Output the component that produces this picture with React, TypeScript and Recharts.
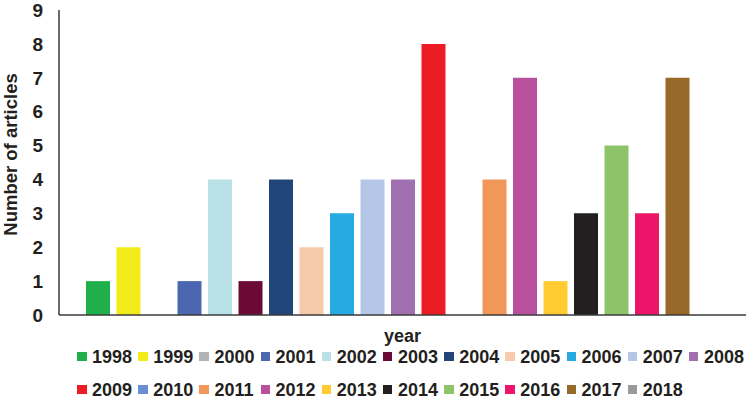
import React from 'react';
import { BarChart, Bar, XAxis, YAxis } from 'recharts';

const years = ['1998','1999','2000','2001','2002','2003','2004','2005','2006','2007','2008','2009','2010','2011','2012','2013','2014','2015','2016','2017','2018'];
const counts = [1, 2, 0, 1, 4, 1, 4, 2, 3, 4, 4, 8, 0, 4, 7, 1, 3, 5, 3, 7, 0];
const colors = ['#1fb04b','#f2eb1a','#b3b3b3','#4a67b0','#b8e2e8','#6a0a35','#22467a','#f8caac','#27aae1','#b4c7e7','#a070b0','#ec1c24','#6a90d2','#f2975a','#b8509e','#ffcb31','#231f20','#8dc46a','#ec1569','#96692a','#9a9a9a'];
const yTicks = [0, 1, 2, 3, 4, 5, 6, 7, 8, 9];
const categoryLabel = 'year';

const row: Record<string, string | number> = { name: categoryLabel };
years.forEach((y, i) => { row[y] = counts[i]; });
const data = [row];

const font = 'Arial, "Liberation Sans", sans-serif';
const textColor = '#231f20';

function LegendBlock() {
  const rows = [years.slice(0, 11), years.slice(11)];
  return (
    <div style={{ position: 'absolute', left: 77, top: 340, fontFamily: font, fontWeight: 'bold', fontSize: 18, color: textColor }}>
      {rows.map((r, ri) => (
        <div key={ri} style={{ display: 'flex', height: 33, alignItems: 'center' }}>
          {r.map((y) => {
            const i = years.indexOf(y);
            return (
              <div key={y} style={{ width: 61.2, display: 'flex', alignItems: 'center', flexShrink: 0 }}>
                <div style={{ width: 9.5, height: 9.5, background: colors[i], marginRight: 5.5 }} />
                <span style={{ lineHeight: '18px' }}>{y}</span>
              </div>
            );
          })}
        </div>
      ))}
    </div>
  );
}

export default function App() {
  return (
    <div style={{ position: 'absolute', left: 0, top: 0, width: 746, height: 400, background: '#fff', overflow: 'hidden' }}>
      <BarChart
        width={746}
        height={400}
        data={data}
        margin={{ top: 10, right: 0, left: 0, bottom: 0 }}
        barSize={24}
        barGap={6.5}
        barCategoryGap={0}
      >
        <XAxis
          dataKey="name"
          height={85}
          axisLine={{ stroke: '#3a3a3a', strokeWidth: 1.5 }}
          tickLine={false}
          tickSize={0}
          tickMargin={14}
          tick={{ fontFamily: font, fontWeight: 'bold', fontSize: 18, fill: textColor }}
        />
        <YAxis
          width={59}
          domain={[0, 9]}
          ticks={yTicks}
          interval={0}
          axisLine={{ stroke: '#3a3a3a', strokeWidth: 1.5 }}
          tickLine={false}
          tickSize={0}
          tickMargin={16}
          tick={{ fontFamily: font, fontWeight: 'bold', fontSize: 19, fill: textColor }}
          label={{ value: 'Number of articles', angle: -90, position: 'center', dx: -19, dy: -8, style: { fontFamily: font, fontWeight: 'bold', fontSize: 18.5, fill: textColor } }}
        />
        {years.map((y, i) => (
          <Bar key={y} dataKey={y} fill={colors[i]} isAnimationActive={false} />
        ))}
      </BarChart>
      <LegendBlock />
    </div>
  );
}
